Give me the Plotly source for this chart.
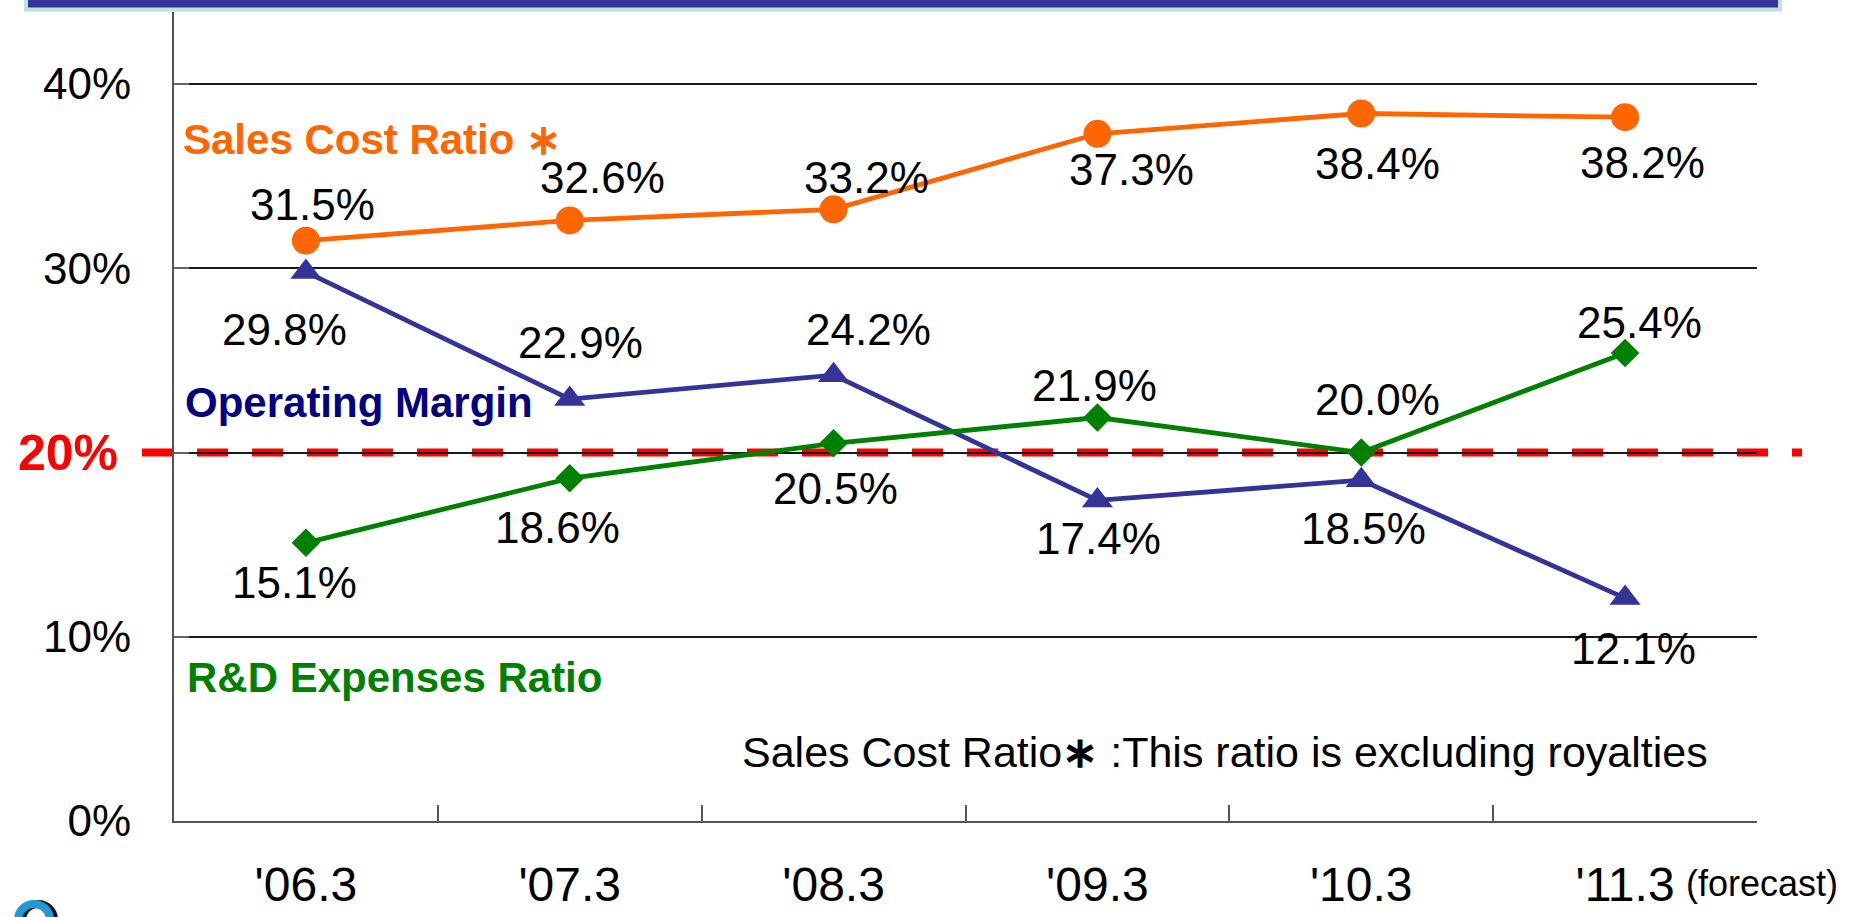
import plotly.graph_objects as go

categories = ["'06.3", "'07.3", "'08.3", "'09.3", "'10.3", "'11.3"]
sales_cost = [31.5, 32.6, 33.2, 37.3, 38.4, 38.2]
op_margin = [29.8, 22.9, 24.2, 17.4, 18.5, 12.1]
rd_ratio = [15.1, 18.6, 20.5, 21.9, 20.0, 25.4]
y_ticks = [0, 10, 20, 30, 40]
y_ticktext = ["0%", "10%", "", "30%", "40%"]
threshold = 20

# label offsets in pixels (xshift, yshift)
sales_off = [(7, 36), (33, 43), (33, 32), (34, -36), (16, -50), (17, -45)]
op_off = [(-21, -58), (11, 57), (35, 46), (1, -38), (2, -48), (8, -50)]
rd_off = [(-11, -40), (-12, -49), (2, -45), (-3, 32), (16, 53), (14, 31)]

FONT = "Arial, Liberation Sans, sans-serif"
ORANGE = "#FF6600"
NAVY_LINE = "#333399"
NAVY_TEXT = "#000080"
GREEN = "#008000"

W, H = 1854, 917
L, R, T, B = 174, 97, 12, 96
PW, PH = W - L - R, H - T - B

def px_x(px):
    return (px - L) / PW

def px_y(py):
    return (H - B - py) / PH

fig = go.Figure()
fig.add_trace(go.Scatter(x=categories, y=sales_cost, mode="lines+markers",
                         line=dict(color=ORANGE, width=4.8),
                         marker=dict(symbol="circle", size=28, color=ORANGE),
                         cliponaxis=False, showlegend=False))
fig.add_trace(go.Scatter(x=categories, y=op_margin, mode="lines+markers",
                         line=dict(color=NAVY_LINE, width=4.8),
                         marker=dict(symbol="triangle-up", size=27, color=NAVY_LINE),
                         cliponaxis=False, showlegend=False))
fig.add_trace(go.Scatter(x=categories, y=rd_ratio, mode="lines+markers",
                         line=dict(color=GREEN, width=4.8),
                         marker=dict(symbol="diamond", size=22, color=GREEN),
                         cliponaxis=False, showlegend=False))

annotations = []
for vals, offs in ((sales_cost, sales_off), (op_margin, op_off), (rd_ratio, rd_off)):
    for i, (v, (dx, dy)) in enumerate(zip(vals, offs)):
        annotations.append(dict(x=i, y=v, xref="x", yref="y", text=f"{v:.1f}%",
                                showarrow=False, xshift=dx, yshift=dy,
                                xanchor="center", yanchor="middle",
                                font=dict(family=FONT, size=44, color="black")))

annotations += [
    dict(x=px_x(181), y=37.0, xref="paper", yref="y", text="Sales Cost Ratio ∗",
         showarrow=False, xanchor="left", yanchor="middle",
         font=dict(family=FONT, size=42, color=ORANGE, weight="bold")),
    dict(x=px_x(183), y=22.73, xref="paper", yref="y", text="Operating Margin",
         showarrow=False, xanchor="left", yanchor="middle",
         font=dict(family=FONT, size=42, color=NAVY_TEXT, weight="bold")),
    dict(x=px_x(185), y=7.78, xref="paper", yref="y", text="R&D Expenses Ratio",
         showarrow=False, xanchor="left", yanchor="middle",
         font=dict(family=FONT, size=42, color=GREEN, weight="bold")),
    dict(x=px_x(740), y=3.73, xref="paper", yref="y",
         text="Sales Cost Ratio<b>∗</b> :This ratio is excluding royalties",
         showarrow=False, xanchor="left", yanchor="middle",
         font=dict(family=FONT, size=43, color="black")),
    dict(x=px_x(120), y=threshold, xref="paper", yref="y", text=f"{threshold}%",
         showarrow=False, xanchor="right", yanchor="middle",
         font=dict(family=FONT, size=50, color="#FF0000", weight="bold")),
    dict(x=px_x(1684), y=px_y(884), xref="paper", yref="paper", text="(forecast)",
         showarrow=False, xanchor="left", yanchor="middle",
         font=dict(family=FONT, size=36, color="black")),
]

shapes = [
    # header bar
    dict(type="rect", xref="paper", yref="paper", x0=px_x(24), x1=px_x(1782),
         y0=px_y(11.7), y1=px_y(-2), fillcolor="#BFE3E5", line=dict(width=0), layer="above"),
    dict(type="rect", xref="paper", yref="paper", x0=px_x(28), x1=px_x(1778),
         y0=px_y(7.5), y1=px_y(-2), fillcolor="#333399", line=dict(width=0), layer="above"),
    # corner logo fragment
    dict(type="circle", xref="paper", yref="paper", x0=px_x(22), x1=px_x(54),
         y0=px_y(936), y1=px_y(904), fillcolor="rgba(0,0,0,0)",
         line=dict(color="#111111", width=8), layer="above"),
    dict(type="circle", xref="paper", yref="paper", x0=px_x(18), x1=px_x(50),
         y0=px_y(936), y1=px_y(904), fillcolor="rgba(0,0,0,0)",
         line=dict(color="#1E9BD7", width=8), layer="above"),
    # 20% threshold dashed line
    dict(type="line", xref="paper", yref="y", x0=px_x(142), x1=px_x(1802),
         y0=threshold, y1=threshold, line=dict(color="#FF0000", width=8, dash="31px,24px"),
         layer="between"),
]

fig.update_layout(
    width=W, height=H, margin=dict(l=L, r=R, t=T, b=B, autoexpand=False),
    paper_bgcolor="white", plot_bgcolor="white",
    annotations=annotations, shapes=shapes,
    font=dict(family=FONT, color="black"),
    xaxis=dict(type="category", range=[-0.5, 5.5], showgrid=False, automargin=False,
               showline=True, linecolor="#555555", linewidth=2,
               ticks="inside", tickson="boundaries", ticklen=16, tickwidth=2, tickcolor="#555555",
               tickfont=dict(family=FONT, size=48, color="black"), ticklabelstandoff=20),
    yaxis=dict(range=[0, 43.91], tickvals=y_ticks, ticktext=y_ticktext, automargin=False,
               showgrid=True, gridcolor="#1a1a1a", gridwidth=1.5, zeroline=False,
               showline=True, linecolor="#555555", linewidth=2,
               ticks="inside", ticklen=15, tickwidth=2, tickcolor="#666666",
               tickfont=dict(family=FONT, size=44, color="black"), ticklabelstandoff=32),
)

fig.write_html("out.html", config={"displayModeBar": False},
               post_script="document.body.style.margin='0';document.body.style.overflow='hidden';")
